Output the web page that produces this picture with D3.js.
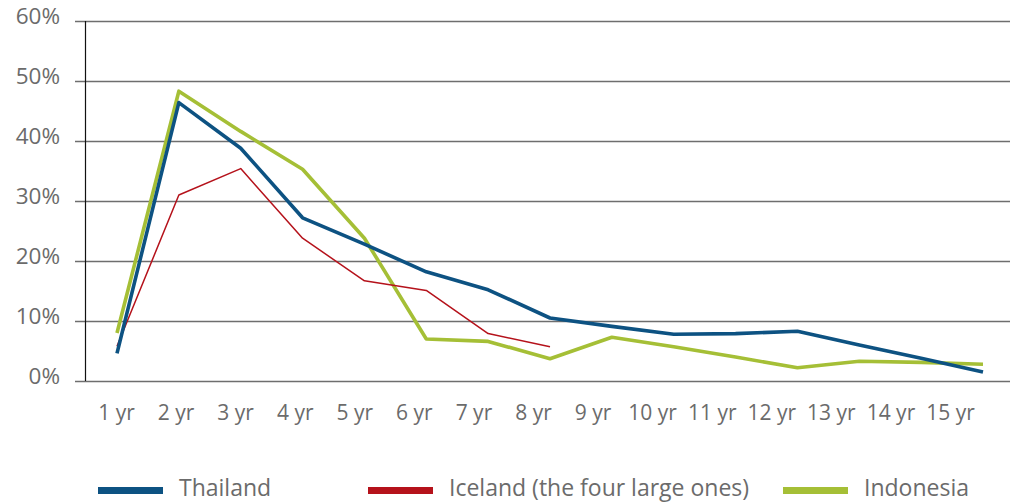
<!DOCTYPE html>
<html>
<head>
<meta charset="utf-8">
<script src="https://cdn.jsdelivr.net/npm/d3@7"></script>
<style>
  body { margin: 0; background: #fff; }
  text { font-family: "Open Sans", sans-serif; fill: #6b6b6b; }
</style>
</head>
<body>
<div id="chart"></div>
<script>
const W = 1010, H = 502;

// data
const categories = ["1 yr","2 yr","3 yr","4 yr","5 yr","6 yr","7 yr","8 yr","9 yr","10 yr","11 yr","12 yr","13 yr","14 yr","15 yr"];
const thailand  = [4.6, 46.4, 38.8, 27.2, 22.8, 18.2, 15.2, 10.5, 9.1, 7.8, 7.9, 8.3, 6.0, 3.8, 1.5];
const iceland   = [5.8, 31.0, 35.4, 23.8, 16.7, 15.1, 7.9, 5.7];
const indonesia = [8.0, 48.3, 41.6, 35.3, 23.8, 7.0, 6.6, 3.7, 7.3, 5.7, 4.0, 2.2, 3.3, 3.1, 2.8];
const yTicks = [0, 10, 20, 30, 40, 50, 60];
const seriesNames = ["Thailand", "Iceland (the four large ones)", "Indonesia"];
const seriesColors = ["#0d5282", "#b5121b", "#a5bf36"];

const svg = d3.select("#chart").append("svg")
    .attr("width", W)
    .attr("height", H);

var x = d3.scalePoint() // position of the data points
    .domain(categories)
    .range([117, 983]);

var xLabels = d3.scalePoint() // tick labels sit a bit apart from the points
    .domain(categories)
    .range([116, 950]);

var y = d3.scaleLinear()
    .domain([0, 60])
    .range([381, 21]);

// gridlines + y labels
const gy = svg.append("g")
    .attr("transform", "translate(75,0)")
    .call(d3.axisLeft(y).tickValues(yTicks).tickSize(-(W - 75)).tickPadding(15).tickFormat(d => d + "%"));
gy.select(".domain").remove();
gy.selectAll(".tick line").attr("stroke", "#6e6e6e").attr("stroke-width", 1.6);
gy.selectAll(".tick text")
    .attr("dy", "0.1em")
    .style("font-size", "22.5px")
    .attr("fill", "#6b6b6b");

// vertical axis line
svg.append("line")
    .attr("x1", 85.5).attr("x2", 85.5)
    .attr("y1", y(60)).attr("y2", y(0))
    .attr("stroke", "#111")
    .attr("stroke-width", 1.2);

// x labels
const gx = svg.append("g")
    .attr("transform", "translate(0,395)")
    .call(d3.axisBottom(xLabels).tickSize(0).tickPadding(10));
gx.select(".domain").remove();
gx.selectAll(".tick text")
    .style("font-size", "21px")
    .attr("fill", "#6b6b6b");

// lines
const line = d3.line()
    .x((d, i) => x(categories[i]))
    .y(d => y(d));

const seriesData = [thailand, iceland, indonesia];
const widths = [3.6, 1.5, 3.6];
const order = [2, 1, 0]; // green, red, then blue on top

order.forEach(k => {
    svg.append("path")
        .datum(seriesData[k])
        .attr("d", line)
        .attr("fill", "none")
        .attr("stroke", seriesColors[k])
        .attr("stroke-width", widths[k])
        .attr("stroke-linejoin", "round");
});

// legend
const legendX = [98, 368, 783];
const legend = svg.append("g").attr("class", "legend");
seriesNames.forEach((name, i) => {
    const g = legend.append("g").attr("transform", `translate(${legendX[i]},0)`);
    g.append("rect")
        .attr("x", 0).attr("y", 487)
        .attr("width", 65).attr("height", 7)
        .attr("fill", seriesColors[i]);
    g.append("text")
        .attr("x", 81).attr("y", 496)
        .style("font-size", "23px")
        .text(name);
});
</script>
</body>
</html>
